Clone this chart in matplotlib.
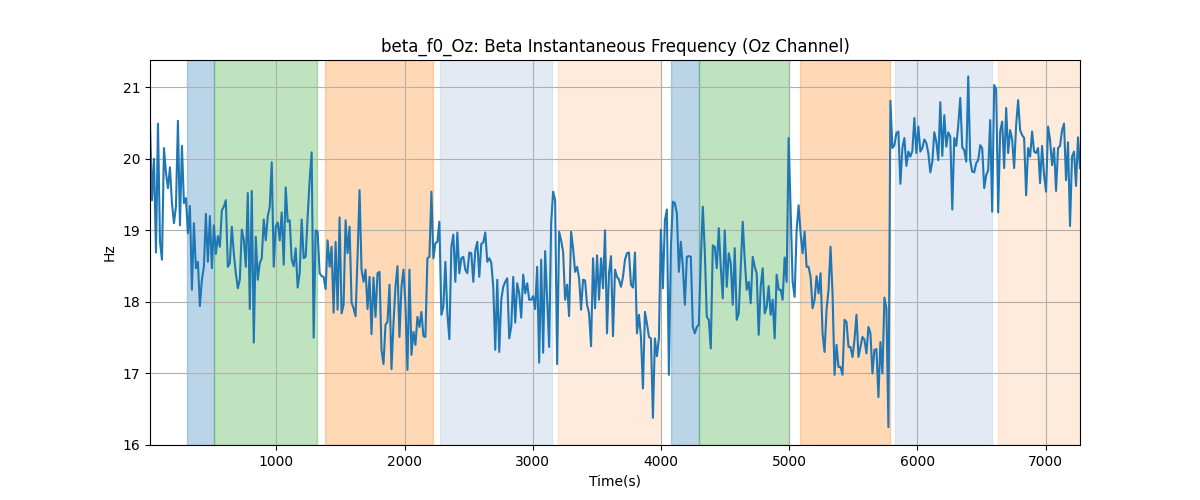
import matplotlib
matplotlib.use('Agg')
import matplotlib.pyplot as plt
import numpy as np

# beta instantaneous frequency (Hz), evenly spaced in time
beta_f0 = [
    # ~15 - 920 s
    20.5, 19.42, 20.0, 18.69, 20.49, 18.84, 18.59, 20.15, 19.8, 19.59, 19.88, 19.38, 19.10,
    19.33, 20.53, 19.07, 20.18, 19.38, 19.45, 18.96, 19.34, 18.17, 19.10, 18.47, 18.56, 17.94,
    18.31, 18.49, 19.23, 18.56, 19.20, 18.47, 19.07, 18.67, 18.92, 18.77, 19.28, 19.33, 19.42,
    18.49, 18.54, 19.05, 18.68, 18.40, 18.19, 18.31, 19.01, 18.87, 18.49, 19.52, 17.90, 19.55,
    17.43,
    # ~920 - 1830 s
    18.91, 18.31, 18.54, 18.61, 19.15, 18.86, 19.19, 19.33, 19.95, 18.49, 19.05, 19.11, 18.86,
    19.25, 18.52, 19.60, 19.12, 19.14, 18.59, 18.50, 18.75, 18.20, 18.40, 19.15, 18.61, 18.63,
    19.19, 19.70, 20.09, 17.50, 19.0, 18.98, 18.40, 18.36, 18.35, 18.18, 18.86, 18.49, 18.77,
    17.85, 18.84, 17.89, 19.18, 17.84, 17.96, 19.14, 18.68, 19.05, 17.99, 17.91, 17.80, 18.63,
    19.56, 18.45, 18.28, 18.45, 17.90, 18.35, 17.55, 18.34,
    # ~1830 - 2740 s
    17.79, 18.40, 18.42, 17.33, 17.13, 17.68, 17.72, 18.24, 17.06, 17.70, 18.21, 18.50, 17.51,
    18.21, 18.45, 17.96, 17.05, 18.45, 17.26, 17.58, 17.40, 17.79, 17.65, 17.86, 17.52, 17.51,
    18.61, 18.63, 19.54, 18.61, 18.82, 18.84, 19.12, 17.82, 17.93, 18.56, 17.84, 17.48, 18.77,
    18.94, 18.28, 18.97, 18.40, 18.61, 18.63, 18.45, 18.40, 18.69, 18.68, 18.28, 18.72, 18.84,
    18.35, 18.81, 18.83, 18.97, 18.56, 18.61, 18.55, 18.21, 17.33,
    # ~2740 - 3650 s
    18.31, 17.30, 18.03, 18.21, 18.28, 18.33, 17.49, 17.65, 18.35, 17.71, 18.26, 18.12, 17.78,
    18.38, 18.12, 18.26, 18.03, 18.03, 18.08, 17.90, 18.49, 17.15, 18.59, 17.29, 18.71, 18.03,
    17.37, 19.10, 19.54, 19.42, 17.13, 18.98, 18.86, 18.70, 18.03, 18.24, 17.80, 18.98, 18.75,
    18.42, 18.49, 18.33, 17.89, 18.31, 18.30, 17.96, 17.84, 17.38, 18.61, 17.91, 18.65, 18.03,
    18.61, 18.19, 19.0, 17.56, 18.40, 18.64, 17.52,
    # ~3650 - 4560 s
    18.45, 18.35, 18.31, 18.21, 18.35, 18.59, 18.68, 18.69, 18.24, 18.20, 18.69, 17.56, 17.82,
    17.51, 16.79, 17.86, 17.70, 17.51, 17.49, 16.38, 17.49, 17.24, 17.49, 19.01, 18.19, 19.14,
    19.29, 16.98, 18.77, 19.40, 19.38, 19.24, 18.42, 18.84, 18.49, 17.96, 18.63, 18.64, 18.63,
    17.65, 17.56, 17.65, 17.68, 18.59, 19.33, 18.70, 17.79, 17.75, 17.35, 18.79, 18.77, 18.47,
    19.03, 18.49, 18.05, 19.0,
    # ~4560 - 5470 s
    18.21, 18.68, 18.54, 17.96, 18.75, 17.75, 17.84, 18.49, 19.12, 18.59, 18.17, 18.28, 17.98,
    18.63, 18.49, 18.40, 17.54, 18.21, 18.47, 17.84, 17.93, 18.22, 17.82, 18.03, 17.49, 18.38,
    18.17, 18.17, 18.03, 18.62, 18.28, 20.29, 19.28, 18.28, 18.07, 19.0, 19.35, 18.96, 18.68,
    18.98, 18.49, 18.49, 18.35, 17.91, 18.03, 18.36, 18.12, 18.40, 17.56, 17.30, 17.89, 18.17,
    18.77, 18.12, 16.98, 17.40, 17.09, 17.09, 16.98, 17.75,
    # ~5470 - 6380 s
    17.72, 17.37, 17.37, 17.23, 17.47, 17.82, 17.23, 17.37, 17.51, 17.47, 17.28, 17.65, 17.56,
    17.0, 17.33, 17.34, 16.67, 17.44, 17.0, 18.06, 17.91, 16.25, 20.81, 20.15, 20.19, 20.36,
    20.38, 19.65, 20.15, 20.29, 19.90, 20.10, 20.03, 20.11, 20.57, 20.08, 20.45, 20.10, 20.15,
    20.27, 20.22, 20.08, 19.81, 19.96, 20.37, 20.24, 19.98, 20.79, 20.04, 20.61, 20.17, 20.37,
    20.31, 19.29, 20.29, 20.18, 20.47, 20.85, 20.16,
    # ~6380 - 7268 s
    20.12, 19.96, 21.15, 19.98, 19.82, 19.81, 19.94, 19.98, 20.19, 20.15, 19.59, 19.77, 19.84,
    20.54, 19.26, 21.03, 20.97, 19.25, 20.38, 20.52, 19.87, 20.71, 20.08, 20.40, 20.27, 19.87,
    20.47, 20.82, 20.40, 20.33, 20.29, 19.49, 20.15, 20.03, 20.38, 20.10, 20.08, 20.15, 19.66,
    20.18, 19.77, 19.54, 20.45, 20.26, 19.91, 20.15, 19.55, 20.15, 20.18, 20.40, 20.49, 19.70,
    20.23, 19.06, 20.03, 20.10, 19.62, 20.30, 19.87,
]
t_start, t_end = 15, 7268

# shaded condition blocks: (start, end, colour, alpha)
span_starts = [306, 511, 1380, 2276, 3197, 4078, 4294, 5084, 5822, 6628]
span_ends = [511, 1315, 2219, 3147, 3997, 4294, 5001, 5783, 6579, 7268]
span_colors = ['tab:blue', 'tab:green', 'tab:orange', 'lightsteelblue', 'tab:orange',
               'tab:blue', 'tab:green', 'tab:orange', 'lightsteelblue', 'tab:orange']
span_alphas = [0.3, 0.3, 0.3, 0.35, 0.15, 0.3, 0.3, 0.3, 0.35, 0.15]

t = np.linspace(t_start, t_end, len(beta_f0))

fig, ax = plt.subplots(figsize=(12, 5), dpi=100)
for s, e, c, a in zip(span_starts, span_ends, span_colors, span_alphas):
    ax.axvspan(s, e, color=c, alpha=a)
ax.plot(t, beta_f0, color='tab:blue', linewidth=1.5)

ax.set_xlim(t_start, t_end)
ax.set_ylim(16, 21.38)
ax.set_title('beta_f0_Oz: Beta Instantaneous Frequency (Oz Channel)')
ax.set_xlabel('Time(s)')
ax.set_ylabel('Hz')
ax.grid(True)

fig.savefig('out.png')
